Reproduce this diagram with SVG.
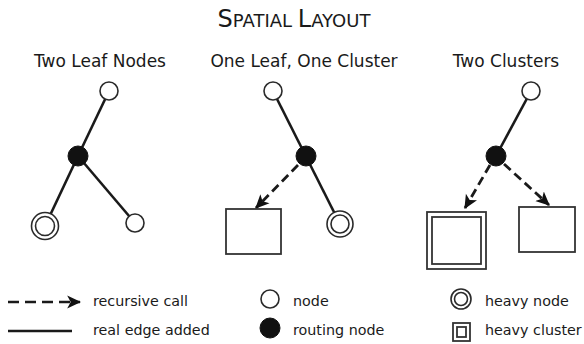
<svg xmlns="http://www.w3.org/2000/svg" width="584" height="344" viewBox="0 0 584 344">
<style>
text{font-family:"DejaVu Sans",Verdana,sans-serif;fill:#1a1a1a}
.sub{font-size:17px;text-anchor:middle}
.leg{font-size:14.3px}
.node{fill:#fff;stroke:#2a2a2a;stroke-width:1.6}
.route{fill:#111;stroke:#111;stroke-width:1}
.box{fill:#fff;stroke:#333;stroke-width:1.8}
.edge{stroke:#1a1a1a;stroke-width:2.6;fill:none}
.call{stroke:#1a1a1a;stroke-width:2.8;fill:none;stroke-dasharray:9 5}
</style>
<defs>
<marker id="ah" viewBox="0 0 12 12" markerWidth="14" markerHeight="14" markerUnits="userSpaceOnUse" refX="11" refY="6" orient="auto">
<path d="M0,0.5 L12,6 L0,11.5 L3,6 z" fill="#111"/>
</marker>
</defs>
<rect width="584" height="344" fill="#fff"/>
<text x="294" y="27" text-anchor="middle"><tspan font-size="24">S</tspan><tspan font-size="18">PATIAL </tspan><tspan font-size="24">L</tspan><tspan font-size="18">AYOUT</tspan></text>
<text class="sub" x="100" y="67">Two Leaf Nodes</text>
<text class="sub" x="304" y="67">One Leaf, One Cluster</text>
<text class="sub" x="506" y="67">Two Clusters</text>
<g id="connectors">
<line class="edge" x1="109" y1="91" x2="78" y2="156"/>
<line class="edge" x1="78" y1="156" x2="45" y2="226"/>
<line class="edge" x1="78" y1="156" x2="135" y2="223"/>
<line class="edge" x1="273" y1="91" x2="340" y2="224"/>
<line class="call" x1="298" y1="165" x2="256" y2="208" marker-end="url(#ah)"/>
<line class="edge" x1="531" y1="91" x2="496" y2="156"/>
<line class="call" x1="490" y1="165" x2="465" y2="208" marker-end="url(#ah)"/>
<line class="call" x1="504" y1="164" x2="549" y2="205" marker-end="url(#ah)"/>
</g>
<g id="p1-top"><circle class="node" cx="109" cy="91" r="9"/></g>
<g id="p1-route"><circle class="route" cx="78" cy="156" r="10"/></g>
<g id="p1-heavy"><circle class="node" cx="45" cy="226" r="13.5"/><circle class="node" cx="45" cy="226" r="9.5"/></g>
<g id="p1-leaf"><circle class="node" cx="135" cy="223" r="9"/></g>
<g id="p2-top"><circle class="node" cx="273" cy="91" r="9"/></g>
<g id="p2-route"><circle class="route" cx="306" cy="156" r="10"/></g>
<g id="p2-heavy"><circle class="node" cx="340" cy="224" r="13"/><circle class="node" cx="340" cy="224" r="9"/></g>
<g id="p2-cluster"><rect class="box" x="226" y="209" width="55" height="45"/></g>
<g id="p3-top"><circle class="node" cx="531" cy="91" r="9"/></g>
<g id="p3-route"><circle class="route" cx="496" cy="156" r="10"/></g>
<g id="p3-heavy"><rect class="box" x="427" y="212" width="59" height="57"/><rect class="box" x="432" y="217" width="49" height="47"/></g>
<g id="p3-cluster"><rect class="box" x="519" y="207" width="56" height="45"/></g>
<g id="legend">
<line class="edge" x1="8" y1="302" x2="80" y2="302" stroke-dasharray="11 6" marker-end="url(#ah)"/>
<text class="leg" x="93" y="306">recursive call</text>
<line class="edge" x1="8" y1="331" x2="72" y2="331"/>
<text class="leg" x="93" y="335">real edge added</text>
<circle class="node" cx="270" cy="299" r="9"/>
<text class="leg" x="293" y="306">node</text>
<circle class="route" cx="270" cy="328" r="10"/>
<text class="leg" x="293" y="335">routing node</text>
<circle class="node" cx="461" cy="299" r="10"/><circle class="node" cx="461" cy="299" r="6.5"/>
<text class="leg" x="485" y="306">heavy node</text>
<rect class="box" x="453" y="323" width="17" height="18" stroke-width="1.6"/><rect class="box" x="457" y="327" width="9" height="10" stroke-width="1.6"/>
<text class="leg" x="485" y="335">heavy cluster</text>
</g>
</svg>
